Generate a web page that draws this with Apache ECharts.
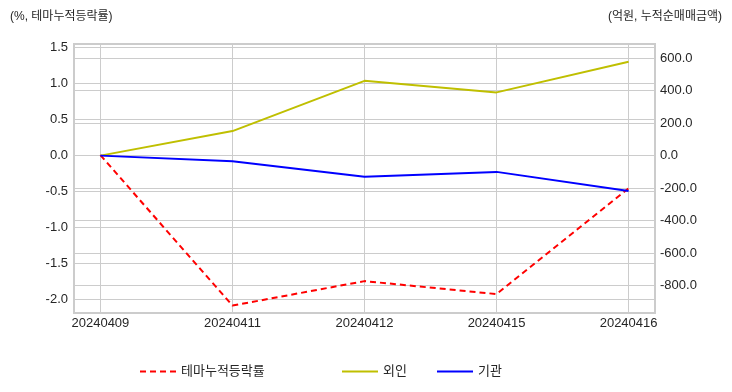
<!DOCTYPE html>
<html>
<head>
<meta charset="utf-8">
<script src="https://cdn.jsdelivr.net/npm/echarts@6/dist/echarts.min.js"></script>
<style>html,body{margin:0;padding:0;background:#fff}#c{width:732px;height:392px}</style>
</head>
<body>
<div id="c"></div>
<script>
var categories = ['20240409', '20240411', '20240412', '20240415', '20240416'];
var themeReturn = [0.0, -2.09, -1.75, -1.93, -0.46];
var foreign = [0, 151, 460, 389, 577];
var institution = [0, -34, -130, -100, -217];
var leftTicks = [-2.0, -1.5, -1.0, -0.5, 0.0, 0.5, 1.0, 1.5];
var rightTicks = [-800, -600, -400, -200, 0, 200, 400, 600];
var xTicks = [0, 1, 2, 3, 4];

function pairs(arr) { return arr.map(function (v, i) { return [i, v]; }); }

var FONT = '"Liberation Sans", "Noto Sans CJK KR", sans-serif';
var GRID = '#cccccc';
var TXT = '#262626';

function legendFor(name, left) {
  return {
    data: [name], left: left, top: 360, itemWidth: 36, itemHeight: 12, itemGap: 0,
    itemStyle: { opacity: 0 },
    textStyle: { fontSize: 13, color: TXT, fontFamily: FONT }
  };
}

var chart = echarts.init(document.getElementById('c'), null, { renderer: 'canvas' });
chart.setOption({
  animation: false,
  backgroundColor: '#ffffff',
  textStyle: { fontFamily: FONT },
  title: [
    { text: '(%, 테마누적등락률)', left: 5, top: 6, textStyle: { fontSize: 12, fontWeight: 'normal', color: TXT, fontFamily: FONT } },
    { text: '(억원, 누적순매매금액)', right: 5, top: 6, textStyle: { fontSize: 12, fontWeight: 'normal', color: TXT, fontFamily: FONT } }
  ],
  grid: { left: 74, right: 77, top: 44, bottom: 79, show: true, borderColor: GRID, borderWidth: 2, backgroundColor: '#fff' },
  legend: [
    legendFor('테마누적등락률', 134),
    legendFor('외인', 336),
    legendFor('기관', 431)
  ],
  xAxis: {
    type: 'value', min: -0.2, max: 4.2,
    axisLine: { show: false },
    axisTick: { show: false, customValues: xTicks },
    axisLabel: { customValues: xTicks, formatter: function (v) { return categories[Math.round(v)]; }, fontSize: 13, color: TXT, margin: 4, fontFamily: FONT },
    splitLine: { show: true, lineStyle: { color: GRID, width: 1 } }
  },
  yAxis: [
    {
      type: 'value', min: -2.193, max: 1.544, position: 'left',
      axisLine: { show: false },
      axisTick: { show: false, customValues: leftTicks },
      axisLabel: { customValues: leftTicks, formatter: function (v) { return v.toFixed(1); }, fontSize: 13, color: TXT, margin: 6, fontFamily: FONT },
      splitLine: { show: true, lineStyle: { color: GRID, width: 1 } }
    },
    {
      type: 'value', min: -968, max: 686.6, position: 'right',
      axisLine: { show: false },
      axisTick: { show: false, customValues: rightTicks },
      axisLabel: { customValues: rightTicks, formatter: function (v) { return v.toFixed(1); }, fontSize: 13, color: TXT, margin: 5, fontFamily: FONT },
      splitLine: { show: true, lineStyle: { color: GRID, width: 1 } }
    }
  ],
  series: [
    { name: '테마누적등락률', type: 'line', yAxisIndex: 0, data: pairs(themeReturn), symbol: 'none', color: '#ff0000', lineStyle: { color: '#ff0000', width: 2, type: [6, 4] }, z: 3 },
    { name: '외인', type: 'line', yAxisIndex: 1, data: pairs(foreign), symbol: 'none', color: '#bfbf00', lineStyle: { color: '#bfbf00', width: 2 }, z: 2 },
    { name: '기관', type: 'line', yAxisIndex: 1, data: pairs(institution), symbol: 'none', color: '#0000ff', lineStyle: { color: '#0000ff', width: 2 }, z: 4 }
  ]
});
</script>
</body>
</html>
